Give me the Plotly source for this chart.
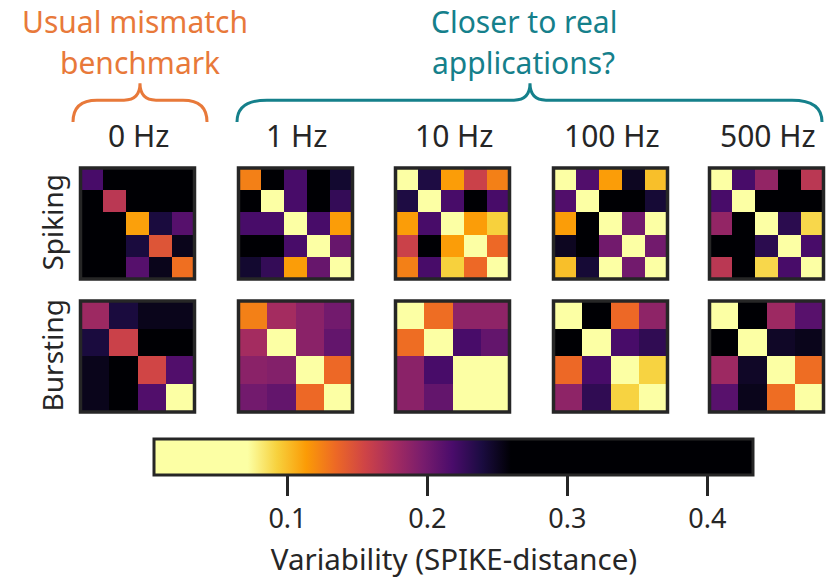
import plotly.graph_objects as go

W, H = 826, 581

frequencies = ["0 Hz", "1 Hz", "10 Hz", "100 Hz", "500 Hz"]
modes = ["Spiking", "Bursting"]

spiking_0hz = [
    [0.219, 0.30, 0.30, 0.30, 0.30],
    [0.30, 0.166, 0.30, 0.30, 0.30],
    [0.30, 0.30, 0.112, 0.240, 0.213],
    [0.30, 0.30, 0.240, 0.146, 0.252],
    [0.30, 0.30, 0.213, 0.252, 0.132],
]
spiking_1hz = [
    [0.125, 0.30, 0.219, 0.30, 0.245],
    [0.30, 0.04, 0.219, 0.30, 0.228],
    [0.219, 0.219, 0.04, 0.219, 0.113],
    [0.30, 0.30, 0.219, 0.04, 0.205],
    [0.245, 0.228, 0.113, 0.205, 0.04],
]
spiking_10hz = [
    [0.04, 0.238, 0.113, 0.158, 0.125],
    [0.238, 0.04, 0.219, 0.30, 0.219],
    [0.113, 0.219, 0.04, 0.113, 0.093],
    [0.158, 0.30, 0.113, 0.04, 0.135],
    [0.125, 0.219, 0.093, 0.135, 0.04],
]
spiking_100hz = [
    [0.04, 0.215, 0.113, 0.250, 0.100],
    [0.215, 0.04, 0.30, 0.30, 0.243],
    [0.113, 0.30, 0.04, 0.200, 0.04],
    [0.250, 0.30, 0.200, 0.04, 0.200],
    [0.100, 0.243, 0.04, 0.200, 0.04],
]
spiking_500hz = [
    [0.04, 0.219, 0.185, 0.30, 0.166],
    [0.219, 0.04, 0.30, 0.30, 0.30],
    [0.185, 0.30, 0.04, 0.232, 0.090],
    [0.30, 0.30, 0.232, 0.04, 0.219],
    [0.166, 0.30, 0.090, 0.219, 0.04],
]
bursting_0hz = [
    [0.180, 0.240, 0.252, 0.252],
    [0.240, 0.158, 0.30, 0.30],
    [0.252, 0.30, 0.155, 0.215],
    [0.252, 0.30, 0.215, 0.04],
]
bursting_1hz = [
    [0.125, 0.177, 0.189, 0.200],
    [0.177, 0.04, 0.189, 0.207],
    [0.189, 0.192, 0.04, 0.135],
    [0.200, 0.207, 0.135, 0.04],
]
bursting_10hz = [
    [0.04, 0.133, 0.187, 0.187],
    [0.133, 0.04, 0.219, 0.207],
    [0.189, 0.219, 0.04, 0.04],
    [0.189, 0.207, 0.04, 0.04],
]
bursting_100hz = [
    [0.04, 0.280, 0.135, 0.187],
    [0.280, 0.04, 0.219, 0.230],
    [0.135, 0.219, 0.04, 0.092],
    [0.187, 0.230, 0.092, 0.04],
]
bursting_500hz = [
    [0.04, 0.30, 0.180, 0.212],
    [0.30, 0.04, 0.248, 0.252],
    [0.180, 0.248, 0.04, 0.133],
    [0.212, 0.252, 0.133, 0.04],
]

matrices = [
    [spiking_0hz, spiking_1hz, spiking_10hz, spiking_100hz, spiking_500hz],
    [bursting_0hz, bursting_1hz, bursting_10hz, bursting_100hz, bursting_500hz],
]

cbar_ticks = [0.1, 0.2, 0.3, 0.4]
cbar_min, cbar_max = 0.005, 0.433
cbar_title = "Variability (SPIKE-distance)"


def px(x):
    return x / W


def py(y):
    return 1 - y / H


# reversed inferno, saturated at both ends
inferno_r = ['#fcffa4', '#f7d13d', '#fb9b06', '#ed6925', '#cf4446',
             '#a52c60', '#781c6d', '#4a0c6b', '#1b0c41', '#000004']
lo = (0.072 - cbar_min) / (cbar_max - cbar_min)
hi = (0.260 - cbar_min) / (cbar_max - cbar_min)
colorscale = [[0.0, inferno_r[0]]]
for i, c in enumerate(inferno_r):
    colorscale.append([lo + (hi - lo) * i / (len(inferno_r) - 1), c])
colorscale.append([1.0, inferno_r[-1]])

fig = go.Figure()

col_left = [79, 237, 394, 552, 708]
box_w = 117
row_top = [168, 302]
box_h = 115
ink = "#262626"
FONT = "Noto Sans"

shapes = []
k = 0
for r in range(2):
    for c in range(5):
        k += 1
        z = matrices[r][c]
        n = len(z)
        xs = "" if k == 1 else str(k)
        fig.add_trace(go.Heatmap(z=z, coloraxis="coloraxis",
                                 xaxis="x" + xs, yaxis="y" + xs,
                                 xgap=0, ygap=0, hoverinfo="z"))
        x0 = col_left[c] + 1.5
        x1 = col_left[c] + box_w - 1.5
        y0 = row_top[r] + 1.5
        y1 = row_top[r] + box_h - 1.5
        fig.layout["xaxis" + xs] = dict(domain=[px(x0), px(x1)], range=[-0.5, n - 0.5],
                                        visible=False, anchor="y" + xs, fixedrange=True)
        fig.layout["yaxis" + xs] = dict(domain=[py(y1), py(y0)], range=[n - 0.5, -0.5],
                                        visible=False, anchor="x" + xs, fixedrange=True)
        shapes.append(dict(type="rect", xref="paper", yref="paper",
                           x0=px(x0), x1=px(x1), y0=py(y1), y1=py(y0),
                           line=dict(color=ink, width=3.5), layer="above"))

annotations = []


def label(text, x, y, size, color, angle=0):
    annotations.append(dict(text=text, x=px(x), y=py(y), xref="paper", yref="paper",
                            xanchor="center", yanchor="middle", showarrow=False,
                            textangle=angle,
                            font=dict(size=size, color=color, family=FONT)))


for c, f in enumerate(frequencies):
    label(f, col_left[c] + box_w / 2 + 1, 137, 30, ink)
for r, m in enumerate(modes):
    label(m, 52, row_top[r] + box_h / 2 - 1, 28, ink, -90)

orange = "#E8793A"
teal = "#15808B"
label("Usual mismatch", 135, 22, 30, orange)
label("benchmark", 140, 63, 30, orange)
label("Closer to real", 524, 22, 30, teal)
label("applications?", 523, 63, 30, teal)


def brace(x0, x1, xm, ybase, yline, ytip, r, r2):
    p = lambda x, y: f"{px(x):.5f},{py(y):.5f}"
    return (f"M {p(x0, ybase)} Q {p(x0, yline)} {p(x0 + r, yline)} "
            f"L {p(xm - r2, yline)} Q {p(xm, yline)} {p(xm, ytip)} "
            f"Q {p(xm, yline)} {p(xm + r2, yline)} "
            f"L {p(x1 - r, yline)} Q {p(x1, yline)} {p(x1, ybase)}")


shapes.append(dict(type="path", xref="paper", yref="paper",
                   path=brace(73, 207, 140, 123, 101, 84, 24, 16),
                   line=dict(color=orange, width=3)))
shapes.append(dict(type="path", xref="paper", yref="paper",
                   path=brace(237, 822, 530, 123, 101, 84, 30, 16),
                   line=dict(color=teal, width=3)))

fig.update_layout(
    width=W, height=H,
    margin=dict(l=0, r=0, t=0, b=0),
    paper_bgcolor="white", plot_bgcolor="white",
    showlegend=False,
    shapes=shapes,
    annotations=annotations,
    coloraxis=dict(
        colorscale=colorscale, cmin=cbar_min, cmax=cbar_max,
        colorbar=dict(
            orientation="h", x=px(454), xanchor="center", y=py(443), yanchor="top",
            len=599, lenmode="pixels", thickness=36, thicknessmode="pixels",
            outlinewidth=3, outlinecolor=ink, xpad=0, ypad=0,
            tickvals=cbar_ticks, ticktext=[str(t) for t in cbar_ticks],
            ticks="outside", ticklen=20, tickwidth=3, tickcolor=ink,
            tickfont=dict(size=27, color=ink, family=FONT),
            title=dict(text=cbar_title, side="bottom",
                       font=dict(size=29.5, color=ink, family=FONT)),
        ),
    ),
)

fig.write_html("out.html", config={"displayModeBar": False},
               post_script="document.body.style.margin='0';")
